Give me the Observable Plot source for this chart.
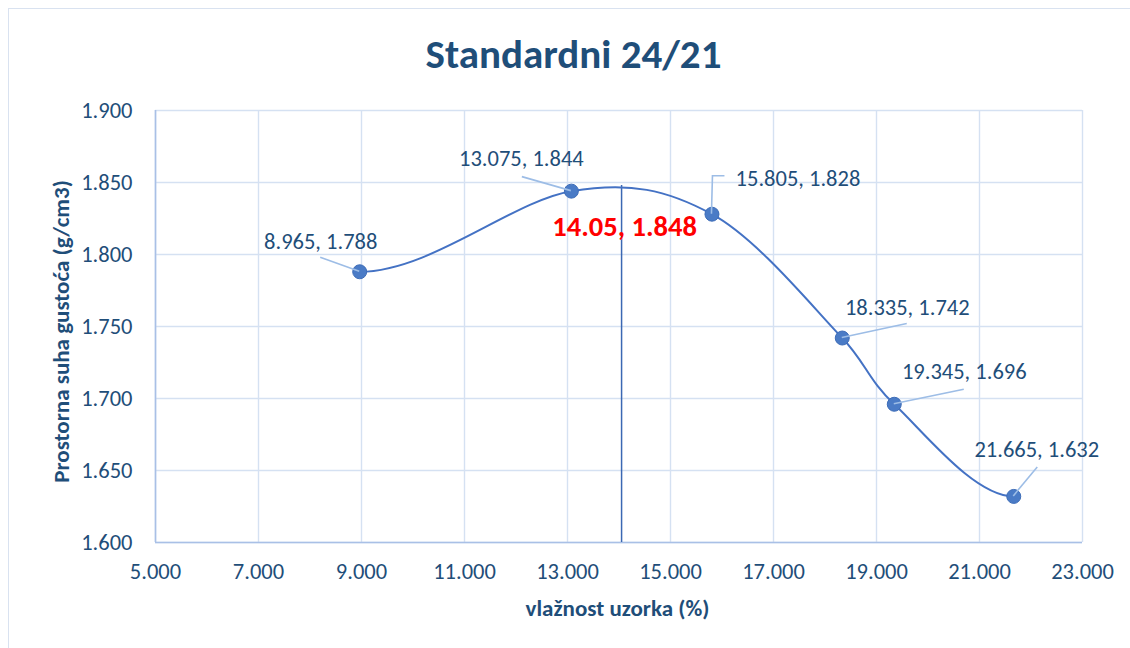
<!DOCTYPE html>
<html>
<head>
<meta charset="utf-8">
<script src="https://cdn.jsdelivr.net/npm/d3@7"></script>
<script src="https://cdn.jsdelivr.net/npm/@observablehq/plot@0.6"></script>
<style>
  html, body { margin: 0; padding: 0; background: #fff; overflow: hidden; }
  #wrap { position: relative; width: 1130px; height: 648px; }
  #frame { position: absolute; left: 8px; top: 8px; width: 1200px; height: 700px;
           border-top: 1.5px solid #d9e2f0; border-left: 1.5px solid #d9e2f0; box-sizing: border-box; }
  #chart { position: absolute; left: 0; top: 0; }
</style>
</head>
<body>
<div id="wrap"><div id="frame"></div><div id="chart"></div></div>
<script>
// ---- data ----
const moisture = [8.965, 13.075, 15.805, 18.335, 19.345, 21.665];
const density  = [1.788, 1.844, 1.828, 1.742, 1.696, 1.632];
const pointLabels = ["8.965, 1.788", "13.075, 1.844", "15.805, 1.828", "18.335, 1.742", "19.345, 1.696", "21.665, 1.632"];
const peakMoisture = [14.05];
const peakDensity = [1.848];
const peakLabel = ["14.05, 1.848"];
const xTicks = [5, 7, 9, 11, 13, 15, 17, 19, 21, 23];
const yTicks = [1.6, 1.65, 1.7, 1.75, 1.8, 1.85, 1.9];
const titleText = "Standardni 24/21";
const xLabel = "vlažnost uzorka (%)";
const yLabel = "Prostorna suha gustoća (g/cm3)";

// ---- layout (pixel offsets of labels/leaders relative to their point) ----
const labelOffsets = [[-39, -30], [-50, -32], [86, -35], [65, -30], [70, -32], [23, -47]];
const leaderOffsets = [
  [[-39, -14]],
  [[-49, -14]],
  [[1, -38], [13, -38]],
  [[65, -14]],
  [[70, -14.5]],
  [[24, -29]]
];

const points = moisture.map((x, i) => ({x, y: density[i], label: pointLabels[i]}));
const peak = peakMoisture.map((x, i) => ({x, y: peakDensity[i], label: peakLabel[i]}));

const textColor = "#1f4e79";
const lineColor = "#4472c4";
const gridColor = "#d5e1f2";
const axisColor = "#a9c0e6";
const leaderColor = "#9dbde6";

// Spreadsheet-style smoothed line: Bezier segments, tangents shortened only
// where a segment is much shorter than its neighbour, flat tangents at the ends.
function SmoothCurve(context) { this._context = context; }
SmoothCurve.prototype = {
  areaStart() { this._line = 0; },
  areaEnd() { this._line = NaN; },
  lineStart() { this._pts = []; },
  point(x, y) { this._pts.push([+x, +y]); },
  lineEnd() {
    const p = this._pts, n = p.length, c = this._context;
    if (!n) return;
    c.moveTo(p[0][0], p[0][1]);
    if (n < 3) { for (let i = 1; i < n; i++) c.lineTo(p[i][0], p[i][1]); return; }
    const dist = (a, b) => Math.hypot(b[0] - a[0], b[1] - a[1]);
    const weight = (dSeg, dOther) => Math.min(1, 1.6 * dSeg / dOther);
    for (let i = 0; i < n - 1; i++) {
      const a = p[i], b = p[i + 1];
      const dab = dist(a, b);
      let c1, c2;
      if (i === 0) c1 = [a[0] + (b[0] - a[0]) / 3, a[1]];
      else {
        const prev = p[i - 1], w = weight(dab, dist(prev, a));
        c1 = [a[0] + (b[0] - prev[0]) / 6 * w, a[1] + (b[1] - prev[1]) / 6 * w];
      }
      if (i === n - 2) c2 = [b[0] - (b[0] - a[0]) / 3, b[1]];
      else {
        const next = p[i + 2], w = weight(dab, dist(b, next));
        c2 = [b[0] - (next[0] - a[0]) / 6 * w, b[1] - (next[1] - a[1]) / 6 * w];
      }
      c.bezierCurveTo(c1[0], c1[1], c2[0], c2[1], b[0], b[1]);
    }
  }
};
const smoothCurve = (context) => new SmoothCurve(context);

function leaders(index, scales) {
  const g = d3.create("svg:g");
  points.forEach((d, i) => {
    const px = scales.x(d.x), py = scales.y(d.y);
    const pts = [[px, py], ...leaderOffsets[i].map(([ox, oy]) => [px + ox, py + oy])];
    g.append("path")
      .attr("d", d3.line()(pts))
      .attr("fill", "none")
      .attr("stroke", leaderColor)
      .attr("stroke-width", 1.6);
  });
  return g.node();
}

const labelMarks = points.map((d, i) =>
  Plot.text([d], {x: "x", y: "y", text: "label", dx: labelOffsets[i][0], dy: labelOffsets[i][1],
    fill: textColor, fontSize: 22.5, textAnchor: "middle"}));

const chart = Plot.plot({
  width: 1130,
  height: 648,
  marginLeft: 155,
  marginRight: 48,
  marginTop: 110,
  marginBottom: 106,
  style: {fontFamily: "Carlito, Calibri, Lato, sans-serif", fontSize: "22.5px", color: textColor, background: "transparent", overflow: "visible"},
  x: {domain: [5, 23], ticks: xTicks, tickFormat: d3.format(".3f"), tickSize: 0, tickPadding: 23, label: null},
  y: {domain: [1.6, 1.9], ticks: yTicks, tickFormat: d3.format(".3f"), tickSize: 0, tickPadding: 23, label: null},
  marks: [
    Plot.gridX(xTicks, {stroke: gridColor, strokeOpacity: 1, strokeWidth: 1.4}),
    Plot.gridY(yTicks, {stroke: gridColor, strokeOpacity: 1, strokeWidth: 1.4}),
    Plot.ruleX([5], {stroke: axisColor, strokeWidth: 1.6}),
    Plot.ruleY([1.6], {stroke: axisColor, strokeWidth: 1.6}),
    Plot.axisX({ticks: xTicks, tickFormat: d3.format(".3f"), tickSize: 0, tickPadding: 21, label: null}),
    Plot.axisY({ticks: yTicks, tickFormat: d3.format(".3f"), tickSize: 0, tickPadding: 23, label: null}),
    Plot.ruleX(peak, {x: "x", y1: 1.6, y2: "y", stroke: "#3b68b3", strokeWidth: 1.5}),
    Plot.line(points, {x: "x", y: "y", curve: smoothCurve, stroke: lineColor, strokeWidth: 2}),
    Plot.dot(points, {x: "x", y: "y", r: 7, fill: "#4a7bc6", stroke: "#3e6db8", strokeWidth: 1}),
    leaders,
    ...labelMarks,
    Plot.text(peak, {x: "x", y: "y", text: "label", dx: 3, dy: 41, fill: "#ff0000", fontSize: 28.5, fontWeight: "bold"}),
    Plot.text([titleText], {frameAnchor: "top-left", dx: 573 - 155, dy: 54 - 110, text: d => d, textAnchor: "middle", lineAnchor: "middle", fontSize: 41, fontWeight: "bold", fill: textColor}),
    Plot.text([xLabel], {frameAnchor: "bottom-left", dx: 617 - 155, dy: 608 - 542, text: d => d, textAnchor: "middle", lineAnchor: "middle", fontSize: 23, fontWeight: "bold", fill: textColor}),
    Plot.text([yLabel], {frameAnchor: "top-left", dx: 61 - 155, dy: 331 - 110, text: d => d, rotate: -90, textAnchor: "middle", lineAnchor: "middle", fontSize: 23, fontWeight: "bold", fill: textColor})
  ]
});
document.getElementById("chart").appendChild(chart);
</script>
</body>
</html>
